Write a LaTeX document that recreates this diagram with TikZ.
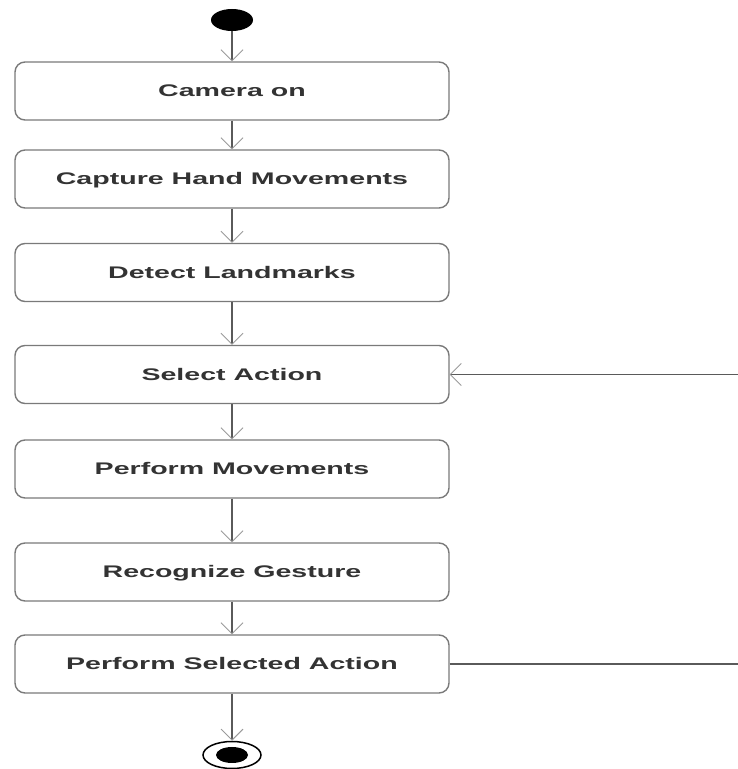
\documentclass[tikz,border=0pt]{standalone}
\usepackage{fontspec}
\usetikzlibrary{arrows.meta,shapes.geometric}
\newfontfamily\lab{Liberation Sans}[FakeStretch=1.7]
\definecolor{txt}{HTML}{333333}
\definecolor{boxline}{HTML}{7A7A7A}
\definecolor{flow}{HTML}{5A5A5A}
\definecolor{tip}{HTML}{9A9A9A}
\tikzset{
  x=1pt, y=1pt,
  action/.style={draw=boxline, line width=1.4pt, rounded corners=10pt,
    minimum width=434pt, minimum height=58pt, inner sep=0pt,
    text height=12pt, text depth=0pt, text=txt,
    font=\lab\bfseries\fontsize{16.8}{18}\selectfont},
  flowarrow/.style={draw=flow, line width=1.1pt,
    -{Straight Barb[length=11pt,width=22pt,line width=0.9pt,color=tip]}}
}
\begin{document}
\begin{tikzpicture}
\useasboundingbox (0,0) rectangle (737,769);
\node[ellipse, fill=black, minimum width=42pt, minimum height=22pt, inner sep=0pt] (start) at (232,749) {};
\node[action] (cam) at (232,678) {Camera on};
\node[action] (cap) at (232,590) {Capture Hand Movements};
\node[action] (det) at (232,496.5) {Detect Landmarks};
\node[action] (sel) at (232,394.5) {Select Action};
\node[action] (pm) at (232,300) {Perform Movements};
\node[action] (rec) at (232,197) {Recognize Gesture};
\node[action] (psa) at (232,105) {Perform Selected Action};
\node[ellipse, draw=black, line width=1.5pt, minimum width=58pt, minimum height=27pt, inner sep=0pt] (end) at (232,14) {};
\fill[black] (end.center) ellipse (16pt and 8pt);
\coordinate (rb) at (745,105);
\coordinate (rt) at (745,394.5);
\draw[flowarrow] (start) -- (cam);
\draw[flowarrow] (cam) -- (cap);
\draw[flowarrow] (cap) -- (det);
\draw[flowarrow] (det) -- (sel);
\draw[flowarrow] (sel) -- (pm);
\draw[flowarrow] (pm) -- (rec);
\draw[flowarrow] (rec) -- (psa);
\draw[flowarrow] (psa) -- (end);
\draw[flowarrow] (psa.east) -- (rb) -- (rt) -- (sel.east);
\end{tikzpicture}
\end{document}
